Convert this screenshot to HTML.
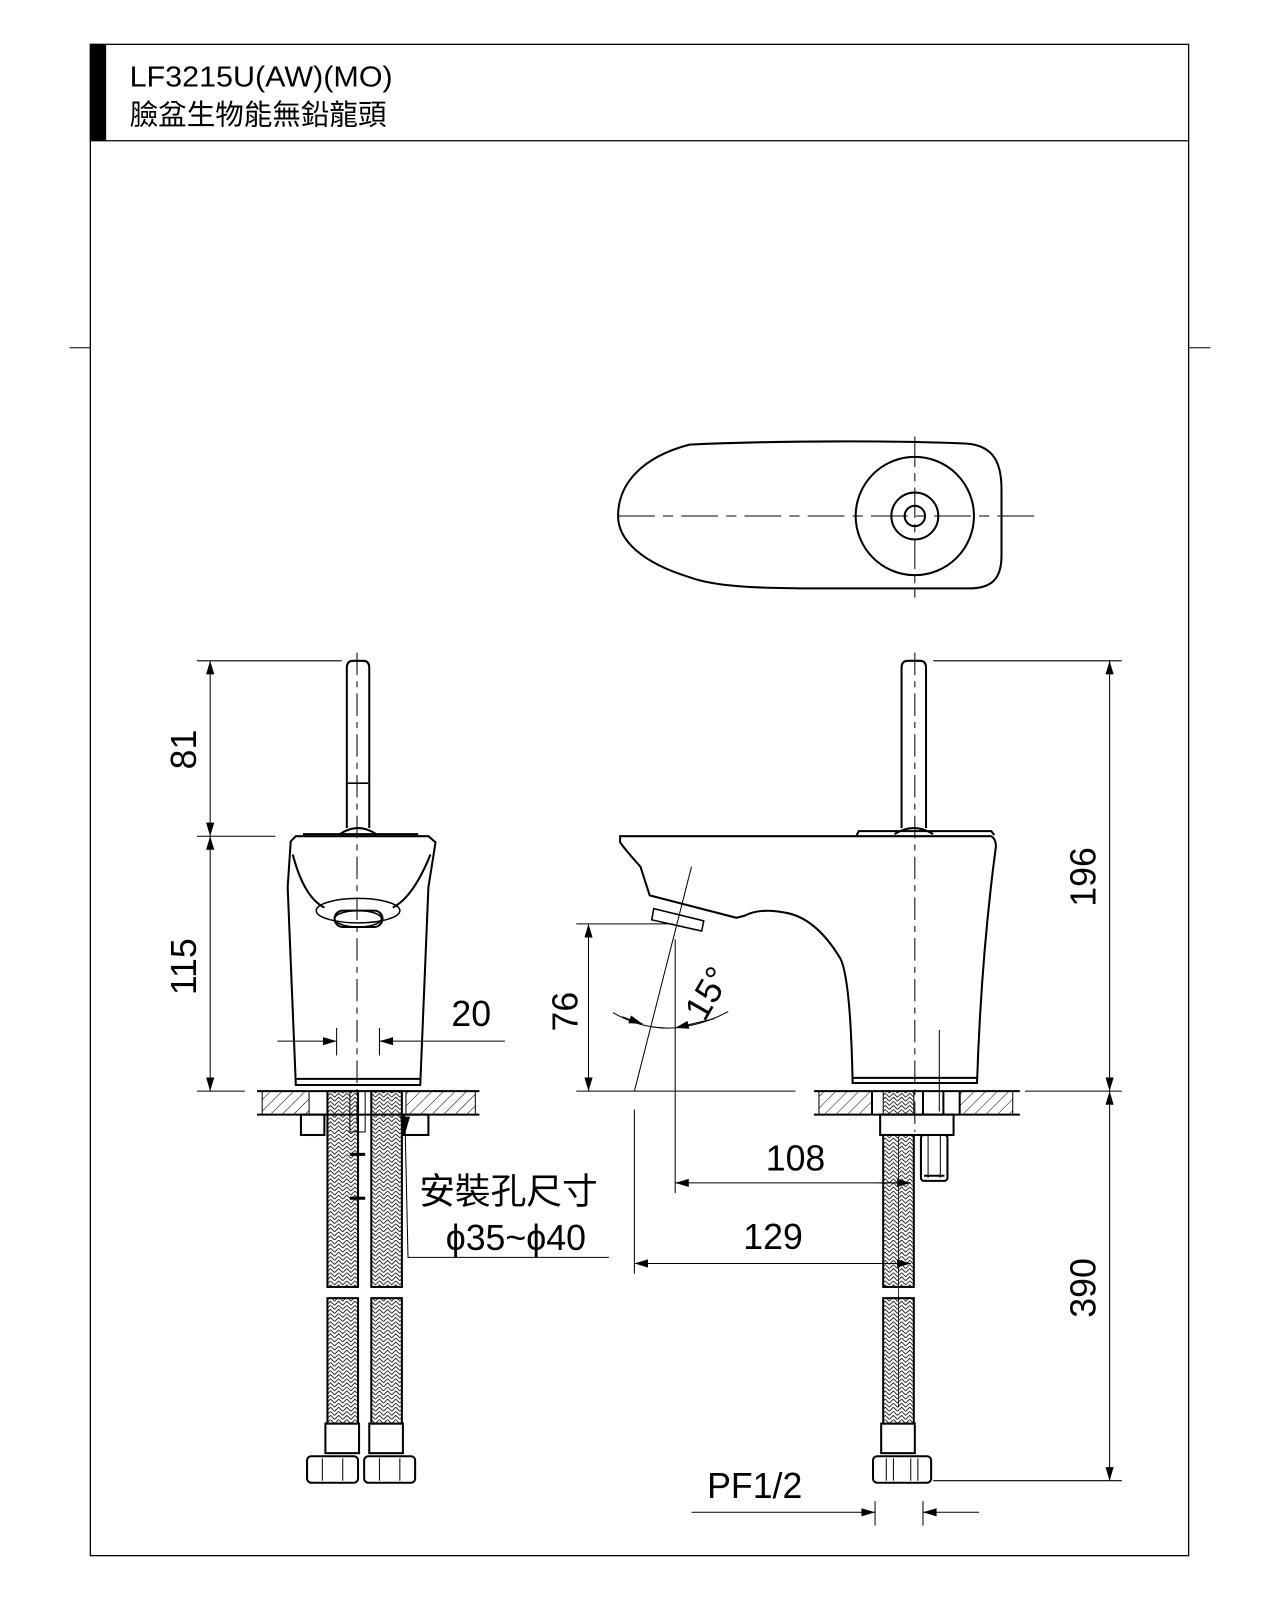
<!DOCTYPE html>
<html><head><meta charset="utf-8"><style>
html,body{margin:0;padding:0;background:#fff;}
svg{display:block;}
text{font-family:"Liberation Sans","Noto Sans CJK TC",sans-serif;fill:#000;}
</style></head><body>
<svg width="1280" height="1600" viewBox="0 0 1255 1569" xmlns="http://www.w3.org/2000/svg">
<defs>
<pattern id="hatch" width="8" height="8" patternUnits="userSpaceOnUse" patternTransform="rotate(45)">
<line x1="0" y1="0" x2="0" y2="8" stroke="#000" stroke-width="1"/>
</pattern>
<pattern id="braid" width="8" height="8" patternUnits="userSpaceOnUse">
<path d="M0 4 L4 0 L8 4 M0 8 L4 4 L8 8" stroke="#000" stroke-width="0.8" fill="none"/>
</pattern>
<marker id="ar" viewBox="0 0 10 6" refX="10" refY="3" markerWidth="20" markerHeight="8" markerUnits="userSpaceOnUse" orient="auto-start-reverse">
<path d="M0 0 L10 3 L0 6 z" fill="#000"/>
</marker>
</defs>
<g stroke="#000" fill="none">
<rect x="88.5" y="43.5" width="1077" height="1482" stroke-width="1.3"/>
<line x1="88" y1="138" x2="1166" y2="138" stroke-width="1.3"/>
<rect x="88" y="43" width="16" height="95" fill="#000" stroke="none"/>
<line x1="68" y1="341" x2="88" y2="341"/>
<line x1="1166" y1="341" x2="1187" y2="341"/>

<!-- top view -->
<path d="M676 436 C760 432 880 432 948 435 C975 437 982 455 982 480 L982 545 C982 568 972 577 950 577 L800 577 C740 577 700 575 676 566 C630 552 606 530 606 506 C606 474 630 448 676 436 Z" stroke-width="2"/>
<circle cx="897" cy="506" r="58" stroke-width="2"/>
<circle cx="897" cy="506" r="23" stroke-width="2"/>
<circle cx="897" cy="506" r="10" stroke-width="2"/>
<line x1="606" y1="506" x2="1018" y2="506" stroke-dasharray="36 8 10 8"/>
<line x1="897" y1="428" x2="897" y2="586" stroke-dasharray="30 6 8 6"/>

<!-- left elevation -->
<path d="M340 812 L340 655 Q340 648 346 648 L356 648 Q362 648 362 655 L362 812" stroke-width="2"/>
<line x1="341" y1="768" x2="361" y2="768" stroke-width="1.5"/>
<path d="M333 818 Q351 806 369 818" stroke-width="2"/>
<path d="M297 818 L410 818" stroke-width="2"/>
<path d="M285 825 L290 820 L420 820 L427 826 L420 870 L412 1064 L290 1064 L282 870 Z" stroke-width="2"/>
<path d="M287 838 Q298 880 318 890 M385 890 Q405 880 422 838" stroke-width="2"/>
<ellipse cx="351" cy="893" rx="41" ry="12" stroke-width="1.5"/>
<rect x="328" y="893" width="47" height="16" rx="8" stroke-width="2"/>
<ellipse cx="351" cy="901" rx="23" ry="8" stroke-width="1.5"/>
<line x1="290" y1="1058" x2="412" y2="1058" stroke-width="2"/>
<line x1="350" y1="640" x2="350" y2="1110" stroke-dasharray="22 6 6 6"/>
<rect x="257" y="1070" width="46" height="23" fill="url(#hatch)"/>
<rect x="398" y="1070" width="68" height="23" fill="url(#hatch)"/>
<line x1="252" y1="1070" x2="470" y2="1070" stroke-width="2"/>
<line x1="252" y1="1093" x2="470" y2="1093" stroke-width="2"/>
<rect x="295" y="1093" width="23" height="20" stroke-width="2"/>
<rect x="396" y="1093" width="24" height="20" stroke-width="2"/>
<rect x="343" y="1070" width="15" height="40" stroke-width="1"/>
<line x1="343" y1="1132" x2="358" y2="1132" stroke-width="3"/>
<line x1="343" y1="1175" x2="358" y2="1175" stroke-width="3"/>
<rect x="321" y="1070" width="30" height="192" fill="url(#braid)" stroke-width="2"/>
<rect x="364" y="1070" width="30" height="192" fill="url(#braid)" stroke-width="2"/>
<rect x="321" y="1273" width="30" height="123" fill="url(#braid)" stroke-width="2"/>
<rect x="364" y="1273" width="30" height="123" fill="url(#braid)" stroke-width="2"/>
<rect x="319" y="1396" width="33" height="29" stroke-width="2"/>
<rect x="362" y="1396" width="33" height="29" stroke-width="2"/>
<rect x="301" y="1428" width="50" height="26" rx="4" stroke-width="2"/>
<rect x="357" y="1428" width="50" height="26" rx="4" stroke-width="2"/>
<line x1="316" y1="1430" x2="316" y2="1452"/><line x1="336" y1="1430" x2="336" y2="1452"/>
<line x1="372" y1="1430" x2="372" y2="1452"/><line x1="392" y1="1430" x2="392" y2="1452"/>
<polyline points="397,1098 400,1233 597,1233"/>
<path d="M392 1095 L402 1095 L397 1112 Z" fill="#000" stroke="none"/>

<line x1="193" y1="648" x2="335" y2="648"/>
<line x1="193" y1="820" x2="270" y2="820"/>
<line x1="193" y1="1070" x2="240" y2="1070"/>
<line x1="206" y1="648" x2="206" y2="820" marker-start="url(#ar)" marker-end="url(#ar)"/>
<line x1="206" y1="820" x2="206" y2="1070" marker-start="url(#ar)" marker-end="url(#ar)"/>
<line x1="330" y1="1008" x2="330" y2="1035"/>
<line x1="372" y1="1008" x2="372" y2="1035"/>
<line x1="272" y1="1021" x2="330" y2="1021" marker-end="url(#ar)"/>
<line x1="495" y1="1021" x2="372" y2="1021" marker-end="url(#ar)"/>

<!-- right elevation -->
<path d="M884 812 L884 655 Q884 648 890 648 L902 648 Q908 648 908 655 L908 812" stroke-width="2"/>
<path d="M877 818 Q896 806 915 818" stroke-width="2"/>
<path d="M840 819 L842 815 L972 815 L975 819" stroke-width="2"/>
<path d="M608 820 L972 820 Q978 824 976 834 Q962 940 958 1062 L836 1062 Q834 960 824 940 Q800 900 770 895 Q745 890 730 898 L722 900 L637 878 L628 850 Q612 832 608 826 Z" stroke-width="2"/>
<polygon points="641,891 690,903 688,913 639,902" stroke-width="1.5" fill="#fff"/>
<line x1="836" y1="1057" x2="958" y2="1057" stroke-width="2"/>
<line x1="897" y1="640" x2="897" y2="1110" stroke-dasharray="22 6 6 6"/>
<line x1="921" y1="1010" x2="921" y2="1090" stroke-width="1"/>
<rect x="803" y="1070" width="52" height="23" fill="url(#hatch)"/>
<rect x="941" y="1070" width="52" height="23" fill="url(#hatch)"/>
<line x1="798" y1="1070" x2="1000" y2="1070" stroke-width="2"/>
<line x1="798" y1="1093" x2="1000" y2="1093" stroke-width="2"/>
<rect x="863" y="1093" width="72" height="20" stroke-width="2"/>
<line x1="855" y1="1070" x2="855" y2="1093" stroke-width="2"/>
<line x1="941" y1="1070" x2="941" y2="1093" stroke-width="2"/>
<line x1="905" y1="1070" x2="905" y2="1093" stroke-width="2"/>
<line x1="925" y1="1070" x2="925" y2="1093" stroke-width="2"/>
<rect x="866" y="1070" width="30" height="23" fill="url(#braid)" stroke-width="1"/>
<rect x="903" y="1113" width="26" height="45" rx="3" stroke-width="2"/>
<line x1="910" y1="1113" x2="910" y2="1155"/><line x1="922" y1="1113" x2="922" y2="1155"/>
<line x1="906" y1="1153" x2="926" y2="1153" stroke-width="2"/>
<rect x="866" y="1113" width="30" height="149" fill="url(#braid)" stroke-width="2"/>
<rect x="866" y="1273" width="30" height="123" fill="url(#braid)" stroke-width="2"/>
<line x1="881" y1="1115" x2="881" y2="1380" stroke-width="0.8"/>
<rect x="864" y="1396" width="33" height="29" stroke-width="2"/>
<rect x="856" y="1428" width="57" height="26" rx="4" stroke-width="2"/>
<line x1="869" y1="1430" x2="869" y2="1452"/><line x1="876" y1="1430" x2="876" y2="1452"/>
<line x1="893" y1="1430" x2="893" y2="1452"/><line x1="900" y1="1430" x2="900" y2="1452"/>

<line x1="915" y1="648" x2="1100" y2="648"/>
<line x1="1005" y1="1070" x2="1100" y2="1070"/>
<line x1="915" y1="1452" x2="1100" y2="1452"/>
<line x1="1088" y1="648" x2="1088" y2="1070" marker-start="url(#ar)" marker-end="url(#ar)"/>
<line x1="1088" y1="1070" x2="1088" y2="1452" marker-start="url(#ar)" marker-end="url(#ar)"/>
<line x1="565" y1="906" x2="660" y2="906"/>
<line x1="565" y1="1070" x2="780" y2="1070"/>
<line x1="577" y1="906" x2="577" y2="1070" marker-start="url(#ar)" marker-end="url(#ar)"/>
<line x1="678" y1="850" x2="622" y2="1070"/>
<line x1="662" y1="921" x2="662" y2="1170"/>
<path d="M601 993 Q630 1010 662 1008 Q690 1005 714 992"/>
<path d="M610 997 L630 1004" marker-end="url(#ar)"/>
<path d="M700 999 L662 1008" marker-end="url(#ar)"/>
<line x1="893" y1="1160" x2="662" y2="1160" marker-end="url(#ar)"/>
<line x1="862" y1="1160" x2="893" y2="1160" marker-end="url(#ar)"/>
<line x1="622" y1="1088" x2="622" y2="1249"/>
<line x1="893" y1="1239" x2="622" y2="1239" marker-end="url(#ar)"/>
<line x1="862" y1="1239" x2="893" y2="1239" marker-end="url(#ar)"/>
<line x1="858" y1="1472" x2="858" y2="1496"/>
<line x1="905" y1="1472" x2="905" y2="1496"/>
<line x1="678" y1="1483" x2="858" y2="1483" marker-end="url(#ar)"/>
<line x1="960" y1="1483" x2="905" y2="1483" marker-end="url(#ar)"/>
</g>

<text x="127" y="85" font-size="28" textLength="258" lengthAdjust="spacingAndGlyphs">LF3215U(AW)(MO)</text>
<text x="127" y="122" font-size="28">臉盆生物能無鉛龍頭</text>
<g font-size="35">
<text transform="translate(192,735) rotate(-90)" text-anchor="middle">81</text>
<text transform="translate(192,948) rotate(-90)" text-anchor="middle">115</text>
<text x="462" y="1006" text-anchor="middle">20</text>
<text transform="translate(566,992) rotate(-90)" text-anchor="middle">76</text>
<text transform="translate(704,980) rotate(-60)" text-anchor="middle">15°</text>
<text transform="translate(1074,860) rotate(-90)" text-anchor="middle">196</text>
<text transform="translate(1074,1263) rotate(-90)" text-anchor="middle">390</text>
<text x="780" y="1148" text-anchor="middle">108</text>
<text x="758" y="1225" text-anchor="middle">129</text>
<text x="740" y="1469" text-anchor="middle">PF1/2</text>
<text x="411" y="1180">安裝孔尺寸</text>
<text x="437" y="1226">ϕ35~ϕ40</text>
</g>
</svg>
</body></html>
